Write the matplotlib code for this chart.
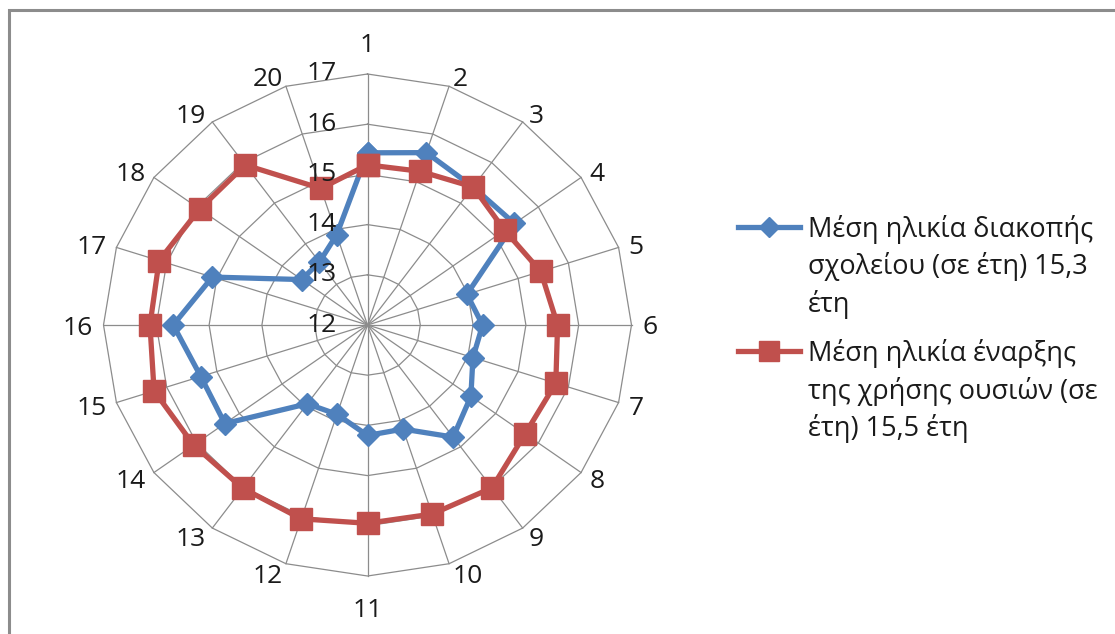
import numpy as np
import matplotlib
matplotlib.use("Agg")
import matplotlib.pyplot as plt
from matplotlib.lines import Line2D
from matplotlib.patches import Rectangle
from matplotlib.transforms import offset_copy

plt.rcParams['font.family'] = ['Open Sans', 'DejaVu Sans']

categories = [str(i) for i in range(1, 21)]
school_dropout_age = [15.43, 15.61, 15.40, 15.44, 13.98, 14.18, 14.10, 14.42, 14.76, 14.18,
                      14.20, 13.87, 13.94, 15.34, 15.32, 15.68, 15.09, 13.54, 13.55, 13.89]
substance_start_age = [15.19, 15.22, 15.40, 15.21, 15.45, 15.60, 15.75, 15.69, 16.01, 15.96,
                       15.95, 16.06, 16.02, 16.07, 16.25, 16.12, 16.15, 15.93, 15.94, 14.86]
radial_ticks = [12, 13, 14, 15, 16, 17]
legend_blue = ["Μέση ηλικία διακοπής", "σχολείου (σε έτη) 15,3", "έτη"]
legend_red = ["Μέση ηλικία έναρξης", "της χρήσης ουσιών (σε", "έτη) 15,5 έτη"]

W, H = 1115, 634
fig = plt.figure(figsize=(W / 100, H / 100), dpi=100)
fig.patch.set_facecolor('white')

BLUE = '#4F81BD'
RED = '#C0504D'
GRID = '#8C8C8C'
TXT = '#1a1a1a'

cx, cy, RX, RY = 367.5, 325, 264, 251
ax = fig.add_axes([(cx - RX) / W, (H - cy - RY) / H, 2 * RX / W, 2 * RY / H], projection='polar')
ax.set_aspect('auto')
ax.set_theta_zero_location('N')
ax.set_theta_direction(-1)
ax.set_ylim(radial_ticks[0], radial_ticks[-1])
ax.grid(False)
ax.spines['polar'].set_visible(False)
ax.set_xticks([])
ax.set_yticks([])
ax.patch.set_alpha(0)

n = len(categories)
theta = np.linspace(0, 2 * np.pi, n, endpoint=False)
theta_c = np.append(theta, theta[0])

# polygon grid
for r in radial_ticks[1:]:
    ax.plot(theta_c, [r] * (n + 1), color=GRID, lw=0.9, zorder=1, clip_on=False)
for t in theta:
    ax.plot([t, t], [radial_ticks[0], radial_ticks[-1]], color=GRID, lw=0.9, zorder=1, clip_on=False)

b = np.append(school_dropout_age, school_dropout_age[0])
rr = np.append(substance_start_age, substance_start_age[0])
ax.plot(theta_c, b, color=BLUE, lw=3.8, marker='D', ms=11, mfc=BLUE, mec=BLUE,
        zorder=3, clip_on=False)
ax.plot(theta_c, rr, color=RED, lw=3.8, marker='s', ms=16, mfc=RED, mec=RED,
        zorder=4, clip_on=False)

# category labels
lab_trans = offset_copy(ax.transData, fig=fig, x=0, y=-3, units='dots')
for t, lab in zip(theta, categories):
    s = np.sin(t)
    if abs(s) < 0.1:
        ha, r_lab = 'center', 17.62
    else:
        ha, r_lab = ('left' if s > 0 else 'right'), 17.2
    ax.text(t, r_lab, lab, ha=ha, va='center', fontsize=19, color=TXT, zorder=6,
            transform=lab_trans)

# radial tick labels
trans = offset_copy(ax.transData, fig=fig, x=-31, y=0, units='dots')
for r in radial_ticks:
    ax.text(0, r, str(r), ha='right', va='center', fontsize=19, color=TXT,
            transform=trans, zorder=6)

# legend (manual)
def fx(x):
    return x / W

def fy(y):
    return 1 - y / H

for y0, col, mk, ms, lines in [(226.5, BLUE, 'D', 10, legend_blue), (351, RED, 's', 14, legend_red)]:
    fig.add_artist(Line2D([fx(738), fx(800)], [fy(y0), fy(y0)], color=col, lw=3.8,
                          transform=fig.transFigure))
    fig.add_artist(Line2D([fx(769)], [fy(y0)], color=col, marker=mk, ms=ms, lw=0,
                          transform=fig.transFigure))
    for i, line in enumerate(lines):
        fig.text(fx(808), fy(y0 + 10 + i * 37.5), line, ha='left', va='baseline',
                 fontsize=19.5, color=TXT)

# outer frame
fig.add_artist(Rectangle((fx(9), fy(H + 20)), fx(W + 20), (H + 20 - 10) / H, fill=False,
                         edgecolor='#8C8C8C', lw=2.2, transform=fig.transFigure))

fig.savefig('out.png', dpi=100, facecolor='white')
